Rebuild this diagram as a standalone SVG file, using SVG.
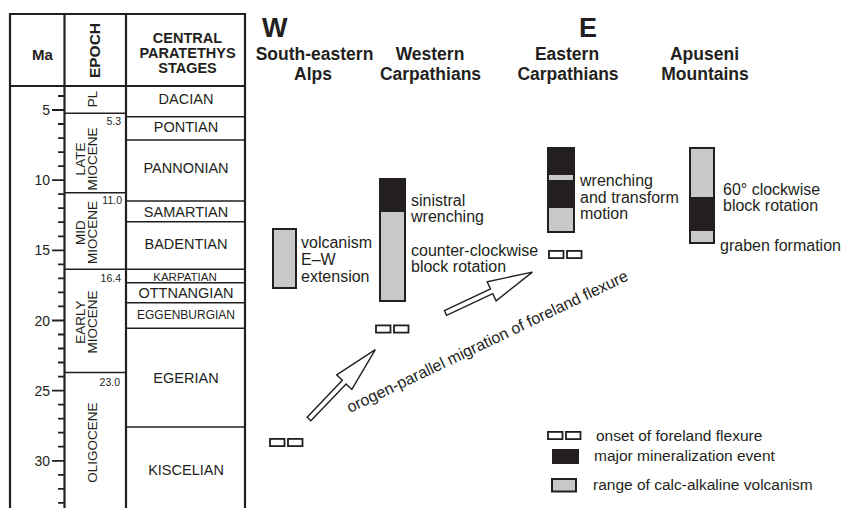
<svg xmlns="http://www.w3.org/2000/svg" width="842" height="508" viewBox="0 0 842 508">
<defs>
<style>
text{font-family:"Liberation Sans",Arial,sans-serif;fill:#231f20}
.b{font-weight:bold}
.frame{fill:none;stroke:#231f20;stroke-width:2.2}
.thin{fill:none;stroke:#231f20;stroke-width:1.6}
.tick{fill:none;stroke:#231f20;stroke-width:1.8}
.stage{font-size:14.5px;text-anchor:middle}
.ep{font-size:13.5px;text-anchor:middle}
.age{font-size:10.5px;text-anchor:end}
.ma{font-size:14px;text-anchor:end}
.reg{font-size:17.5px;font-weight:bold;text-anchor:middle}
.lbl{font-size:16px}
.leg{font-size:15.5px}
.gray{fill:#c8c8c8}
.out{fill:none;stroke:#231f20;stroke-width:2}
.blk{fill:#231f20}
.flex{fill:#fff;stroke:#231f20;stroke-width:1.8}
.arr{fill:#fff;stroke:#231f20;stroke-width:1.4;stroke-linejoin:miter}
</style>
<g id="fx">
<rect x="1" y="0.9" width="14.5" height="7.2" class="flex"/>
<rect x="19" y="0.9" width="14.5" height="7.2" class="flex"/>
</g>
<polygon id="arrow" class="arr" points="0,-2.6 51,-2.6 51,-10.5 96,0 51,10.5 51,2.6 0,2.6"/>
</defs>
<rect width="842" height="508" fill="#fff"/>

<g id="timescale-table">
<path class="frame" d="M10,508 V14 H245 V508 M64.5,14 V508 M126,14 V508 M10,86 H245"/>
<path class="thin" d="M64.5,113.3 H126 M64.5,192.7 H126 M64.5,269.3 H126 M64.5,372.5 H126"/>
<path class="thin" d="M126,116.8 H245 M126,140 H245 M126,201 H245 M126,221.8 H245 M126,269.2 H245 M126,282.7 H245 M126,302.7 H245 M126,328.2 H245 M126,427 H245"/>
<path class="tick" d="M58,96 H64.5 M52,110 H64.5 M58,124 H64.5 M58,138.1 H64.5 M58,152.1 H64.5 M58,166.1 H64.5 M52,180.2 H64.5 M58,194.2 H64.5 M58,208.2 H64.5 M58,222.2 H64.5 M58,236.3 H64.5 M52,250.3 H64.5 M58,264.3 H64.5 M58,278.4 H64.5 M58,292.4 H64.5 M58,306.4 H64.5 M52,320.5 H64.5 M58,334.5 H64.5 M58,348.5 H64.5 M58,362.5 H64.5 M58,376.6 H64.5 M52,390.6 H64.5 M58,404.6 H64.5 M58,418.7 H64.5 M58,432.7 H64.5 M58,446.7 H64.5 M52,460.8 H64.5 M58,474.8 H64.5 M58,488.8 H64.5 M58,502.8 H64.5"/>
<text class="b" x="42.5" y="60" font-size="15" text-anchor="middle">Ma</text>
<text class="b" transform="translate(100,50.5) rotate(-90)" font-size="15.5" text-anchor="middle">EPOCH</text>
<text class="b" font-size="14.5" text-anchor="middle"><tspan x="187.5" y="43.3">CENTRAL</tspan><tspan x="187.5" y="58.3">PARATETHYS</tspan><tspan x="187.5" y="73.3">STAGES</tspan></text>
<text class="ma" x="50" y="115">5</text>
<text class="ma" x="50" y="185.2">10</text>
<text class="ma" x="50" y="255.3">15</text>
<text class="ma" x="50" y="325.5">20</text>
<text class="ma" x="50" y="395.6">25</text>
<text class="ma" x="50" y="465.8">30</text>
<text class="ep" transform="translate(96.5,99) rotate(-90)">PL</text>
<text class="ep" transform="translate(84.8,159) rotate(-90)">LATE</text>
<text class="ep" transform="translate(96.8,159) rotate(-90)">MIOCENE</text>
<text class="ep" transform="translate(84.8,232.6) rotate(-90)">MID</text>
<text class="ep" transform="translate(96.8,232.6) rotate(-90)">MIOCENE</text>
<text class="ep" transform="translate(84.8,322) rotate(-90)">EARLY</text>
<text class="ep" transform="translate(96.8,322) rotate(-90)">MIOCENE</text>
<text class="ep" transform="translate(96.5,442.5) rotate(-90)">OLIGOCENE</text>
<text class="age" x="121" y="124.5">5.3</text>
<text class="age" x="122" y="204">11.0</text>
<text class="age" x="121" y="282">16.4</text>
<text class="age" x="120" y="386">23.0</text>
<text class="stage" x="186" y="104">DACIAN</text>
<text class="stage" x="186" y="131.7">PONTIAN</text>
<text class="stage" x="186" y="172.5">PANNONIAN</text>
<text class="stage" x="186" y="217">SAMARTIAN</text>
<text class="stage" x="186" y="249">BADENTIAN</text>
<text class="stage" x="185" y="280.5" style="font-size:11.5px">KARPATIAN</text>
<text class="stage" x="186" y="298">OTTNANGIAN</text>
<text class="stage" x="186" y="319" style="font-size:12px">EGGENBURGIAN</text>
<text class="stage" x="186" y="383">EGERIAN</text>
<text class="stage" x="186" y="475">KISCELIAN</text>
</g>

<g id="direction-labels">
<text class="b" x="262" y="37" font-size="27">W</text>
<text class="b" x="579" y="37" font-size="27">E</text>
</g>

<g id="se-alps">
<text class="reg"><tspan x="314.5" y="60">South-eastern</tspan><tspan x="313" y="79.5">Alps</tspan></text>
<rect class="gray" x="273" y="229" width="23" height="59"/>
<rect class="out" x="273" y="229" width="23" height="59"/>
<text class="lbl"><tspan x="301" y="248">volcanism</tspan><tspan x="301" y="265">E–W</tspan><tspan x="301" y="282">extension</tspan></text>
<use href="#fx" x="269" y="438"/>
</g>

<g id="western-carpathians">
<text class="reg"><tspan x="430" y="60">Western</tspan><tspan x="430.5" y="79.5">Carpathians</tspan></text>
<rect class="gray" x="380" y="179" width="25" height="122"/>
<rect class="blk" x="380" y="179" width="25" height="33"/>
<rect class="out" x="380" y="179" width="25" height="122"/>
<text class="lbl"><tspan x="411" y="206">sinistral</tspan><tspan x="411" y="222">wrenching</tspan></text>
<text class="lbl"><tspan x="411" y="256">counter-clockwise</tspan><tspan x="411" y="272">block rotation</tspan></text>
<use href="#fx" x="375" y="324.5"/>
</g>

<g id="eastern-carpathians">
<text class="reg"><tspan x="567" y="60">Eastern</tspan><tspan x="568" y="79.5">Carpathians</tspan></text>
<rect class="gray" x="548" y="148" width="26" height="84"/>
<rect class="blk" x="548" y="148" width="26" height="27"/>
<rect class="blk" x="548" y="180" width="26" height="28"/>
<rect class="out" x="548" y="148" width="26" height="84"/>
<text class="lbl"><tspan x="580" y="186">wrenching</tspan><tspan x="580" y="202.5">and transform</tspan><tspan x="580" y="219">motion</tspan></text>
<use href="#fx" x="548" y="250"/>
</g>

<g id="apuseni-mountains">
<text class="reg"><tspan x="704.5" y="60">Apuseni</tspan><tspan x="705" y="79.5">Mountains</tspan></text>
<rect class="gray" x="690" y="148" width="24" height="95"/>
<rect class="blk" x="690" y="197" width="24" height="34"/>
<rect class="out" x="690" y="148" width="24" height="95"/>
<text class="lbl"><tspan x="723" y="195">60° clockwise</tspan><tspan x="723" y="211">block rotation</tspan></text>
<text class="lbl" x="720" y="251">graben formation</text>
</g>

<g id="connectors">
<use href="#arrow" transform="translate(309,419) rotate(-46.3)"/>
<use href="#arrow" transform="translate(445.5,313) rotate(-25.2)"/>
<text class="lbl" transform="translate(350,413) rotate(-25.5)">orogen-parallel migration of foreland flexure</text>
</g>

<g id="legend">
<use href="#fx" x="547" y="431"/>
<text class="leg" x="596" y="441">onset of foreland flexure</text>
<rect class="blk" x="552" y="449" width="27" height="15"/>
<text class="leg" x="594" y="460.5">major mineralization event</text>
<rect class="gray" x="552" y="479" width="24" height="12.5"/>
<rect class="out" x="552" y="479" width="24" height="12.5"/>
<text class="leg" x="593" y="489.5">range of calc-alkaline volcanism</text>
</g>
</svg>
